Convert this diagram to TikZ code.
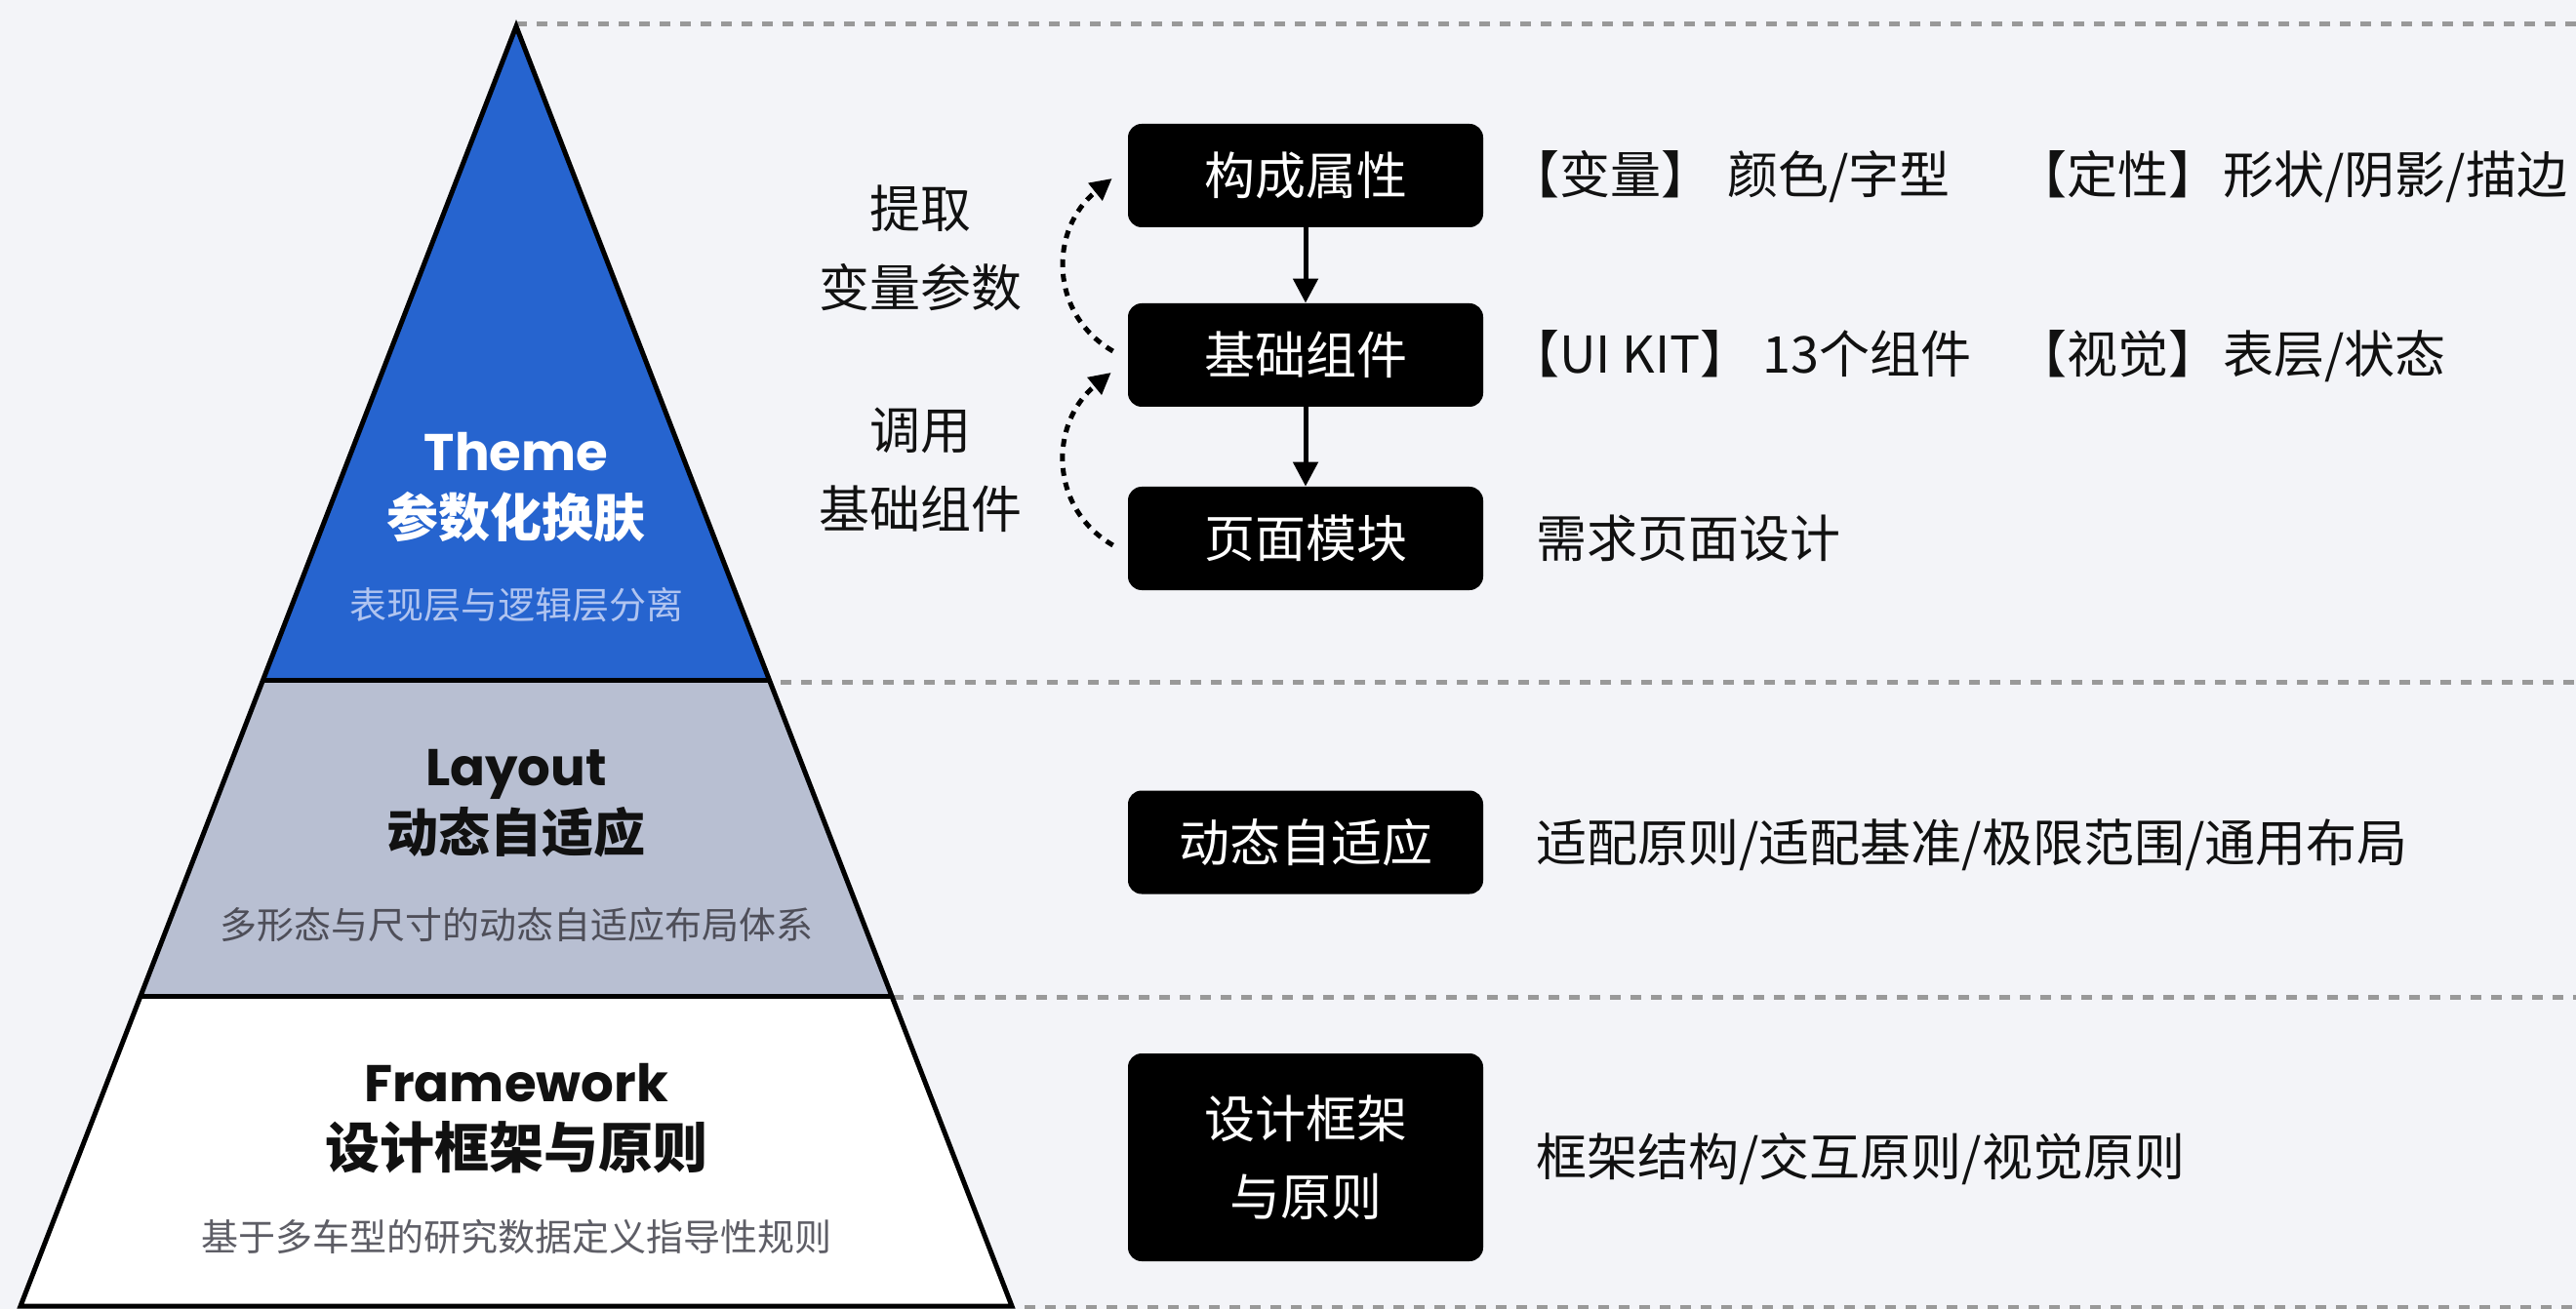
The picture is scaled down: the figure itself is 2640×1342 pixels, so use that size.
\documentclass[tikz,border=0pt]{standalone}
\usepackage{fontspec}
\setmainfont{Noto Sans CJK SC}
\newfontfamily\pop{Poppins}
\usetikzlibrary{arrows.meta,calc}
\definecolor{bg}{HTML}{F3F4F8}
\definecolor{themeblue}{HTML}{2664CF}
\definecolor{laygray}{HTML}{B8BFD2}
\definecolor{dashgray}{HTML}{999999}
\definecolor{subblue}{HTML}{B0C4F0}
\definecolor{subgray}{HTML}{4E4E58}
\definecolor{subgray2}{HTML}{5E5E66}
\definecolor{ink}{HTML}{111111}
\tikzset{
  sepline/.style={dashgray, line width=2.5pt, dash pattern=on 5.5pt off 5pt},
  outline/.style={black, line width=2.5pt, line join=miter},
  blk/.style={fill=black, rounded corners=7pt, minimum width=182pt, minimum height=53pt,
    text=white, font=\fontsize{26pt}{40pt}\selectfont, inner sep=0pt, align=center},
  latinttl/.style={anchor=base, inner sep=0pt, font=\pop\bfseries\fontsize{26.5pt}{30pt}\selectfont},
  cjkttl/.style={anchor=base, inner sep=0pt, font=\bfseries\fontsize{26.5pt}{30pt}\selectfont},
  subttl/.style={anchor=base, inner sep=0pt, font=\fontsize{19pt}{22pt}\selectfont},
  lbl/.style={anchor=base, inner sep=0pt, text=ink, font=\fontsize{26pt}{30pt}\selectfont},
  desc/.style={anchor=base west, inner sep=0pt, text=ink, font=\fontsize{26pt}{30pt}\selectfont},
  flow/.style={line width=2.5pt, -{Triangle[length=12.5pt,width=12.5pt]}},
  backflow/.style={line width=2.5pt, dash pattern=on 4pt off 3.5pt, -{Triangle[length=11pt,width=11pt]}}
}
\begin{document}
\begin{tikzpicture}[x=0.5pt,y=-0.5pt]
\fill[bg] (0,0) rectangle (2640,1342);
\useasboundingbox (0,0) rectangle (2640,1342);

% dashed separators
\draw[sepline] (529,25) -- (2640,25);
\draw[sepline] (800,699) -- (2640,699);
\draw[sepline] (915,1022) -- (2640,1022);
\draw[sepline] (1050,1340) -- (2640,1340);

% pyramid bands
\fill[themeblue] (529,27) -- (788.4,697) -- (269.6,697) -- cycle;
\fill[laygray] (269.6,697) -- (788.4,697) -- (914,1021) -- (144,1021) -- cycle;
\fill[white] (144,1021) -- (914,1021) -- (1037,1339) -- (21,1339) -- cycle;
\draw[outline] (529,27) -- (1037,1339) -- (21,1339) -- cycle;
\draw[outline] (269.6,697) -- (788.4,697);
\draw[outline] (144,1021) -- (914,1021);

% pyramid texts
\node[latinttl, text=white] (t1) at (529,482) {Theme};
\node[cjkttl, text=white] (t2) at (529,551) {参数化换肤};
\node[subttl, text=subblue] (t3) at (529,634) {表现层与逻辑层分离};
\node[latinttl, text=ink] (l1) at (529,805) {Layout};
\node[cjkttl, text=ink] (l2) at (529,873) {动态自适应};
\node[subttl, text=subgray] (l3) at (529,962) {多形态与尺寸的动态自适应布局体系};
\node[latinttl, text=ink] (f1) at (529,1129) {Framework};
\node[cjkttl, text=ink, font=\bfseries\fontsize{28pt}{32pt}\selectfont] (f2) at (529,1197) {设计框架与原则};
\node[subttl, text=subgray2] (f3) at (529,1282) {基于多车型的研究数据定义指导性规则};

% black boxes
\node[blk] (b1) at (1338,180) {构成属性};
\node[blk] (b2) at (1338,364) {基础组件};
\node[blk] (b3) at (1338,552) {页面模块};
\node[blk] (b4) at (1338,863.5) {动态自适应};
\node[blk, minimum height=106.5pt] (b5) at (1338,1186.5) {设计框架\\与原则};

% flows
\draw[flow] (b1) -- (b2);
\draw[flow] (b2) -- (b3);
\coordinate (c1s) at ($(b2.west)+(-15,-4)$);
\coordinate (c1e) at ($(b1.west)+(-16,3)$);
\coordinate (c2s) at ($(b3.west)+(-15,7)$);
\coordinate (c2e) at ($(b2.west)+(-17,18)$);
\draw[backflow] (c1s) .. controls (1075,322) and (1075,235) .. (c1e);
\draw[backflow] (c2s) .. controls (1075,521) and (1075,434) .. (c2e);

% left labels
\node[lbl] (a1) at (943,234) {提取};
\node[lbl] (a2) at (943,315) {变量参数};
\node[lbl] (a3) at (943,460) {调用};
\node[lbl] (a4) at (943,541) {基础组件};

% right descriptions
\node[desc] (d1a) at (1546,199) {【变量】\hspace{8pt}颜色/字型};
\node[desc] (d1b) at (2066,199) {【定性】\hspace{2pt}形状/阴影/描边};
\node[desc] (d2a) at (1546,383) {【UI KIT】\hspace{6pt}13个组件};
\node[desc] (d2b) at (2066,383) {【视觉】\hspace{2pt}表层/状态};
\node[desc] (d3) at (1574,571) {需求页面设计};
\node[desc] (d4) at (1574,883) {适配原则/适配基准/极限范围/通用布局};
\node[desc] (d5) at (1574,1205) {框架结构/交互原则/视觉原则};
\end{tikzpicture}
\end{document}
